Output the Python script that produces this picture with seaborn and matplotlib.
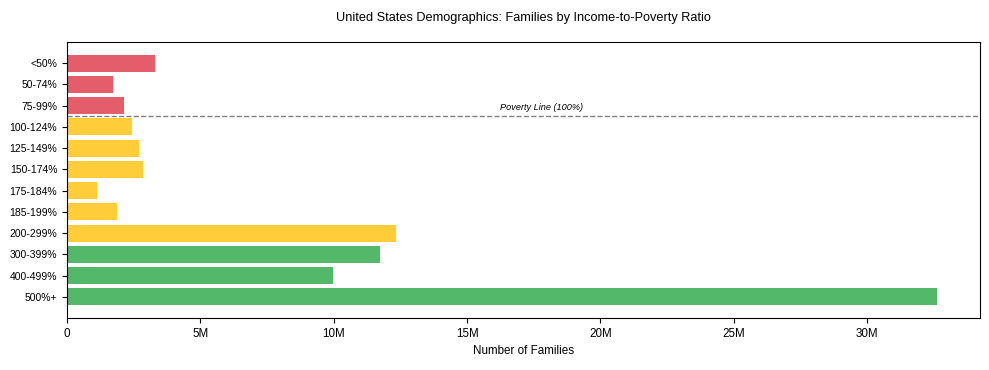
import matplotlib
matplotlib.use("Agg")
import matplotlib.pyplot as plt
import seaborn as sns
import pandas as pd
from matplotlib.ticker import FuncFormatter

categories = ["<50%", "50-74%", "75-99%", "100-124%", "125-149%", "150-174%",
              "175-184%", "185-199%", "200-299%", "300-399%", "400-499%", "500%+"]
families_m = [3.30, 1.72, 2.14, 2.44, 2.70, 2.85, 1.12, 1.87, 12.33, 11.73, 9.97, 32.6]
groups = ["below", "below", "below", "near", "near", "near", "near", "near", "near",
          "above", "above", "above"]
palette = {"below": "#dc3545", "near": "#ffc107", "above": "#28a745"}

df = pd.DataFrame({"cat": categories, "val": [v * 1e6 for v in families_m], "grp": groups})

plt.rcParams['font.family'] = ['Liberation Sans', 'DejaVu Sans']
fig = plt.figure(figsize=(9.89, 3.7), dpi=100)
ax = fig.add_axes([0.0677, 0.1405, 0.9233, 0.746])
sns.barplot(data=df, y="cat", x="val", hue="grp", palette=palette, orient="h",
            alpha=0.8, width=0.8, dodge=False, legend=False, ax=ax, saturation=1)
ax.set_ylim(11.99, -0.99)
ax.set_xlim(0, max(df["val"]) * 1.05)
ax.xaxis.set_major_formatter(FuncFormatter(lambda v, p: f"{int(v/1e6)}M" if v > 0 else "0"))
ax.axhline(2.5, color="gray", linestyle="--", linewidth=1)
ax.text(17.8e6, 2.3, "Poverty Line (100%)", fontsize=6.6, style="italic", ha="center", va="bottom")
ax.set_ylabel("")
ax.set_xlabel("Number of Families", fontsize=8.4)
ax.tick_params(axis="y", labelsize=7.5)
ax.tick_params(axis="x", labelsize=8.4)
ax.set_title("United States Demographics: Families by Income-to-Poverty Ratio", fontsize=9.2, pad=15)
fig.savefig("out.png", dpi=100)
